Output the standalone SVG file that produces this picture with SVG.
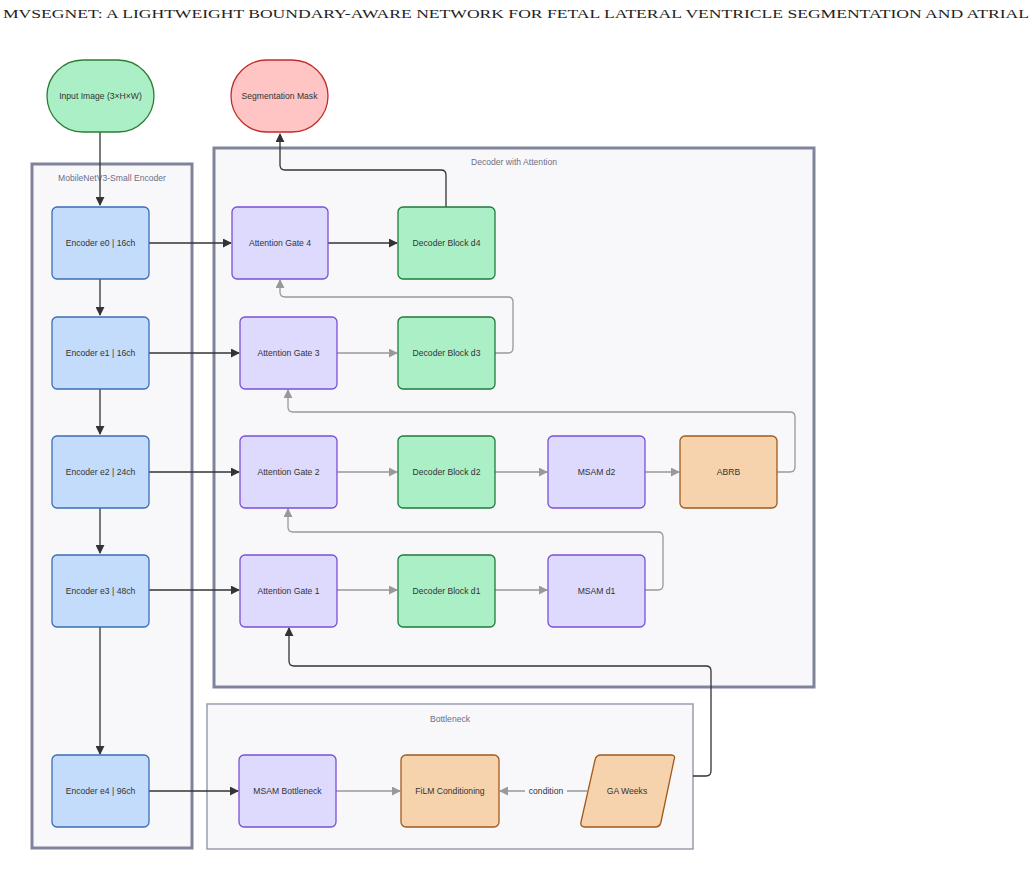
<svg xmlns="http://www.w3.org/2000/svg" width="1035" height="887" viewBox="0 0 1035 887">
<defs>
<style>
.t{font-family:"Liberation Sans",Arial,sans-serif;font-size:8.6px;fill:#333;text-anchor:middle;dominant-baseline:central}
.cl{font-family:"Liberation Sans",Arial,sans-serif;font-size:8.6px;fill:#6b6f85;text-anchor:middle;dominant-baseline:central}
.clu{fill:#f8f8fb;stroke:#80849a;stroke-width:3}
.clb{fill:#f8f8fb;stroke:#9a9db0;stroke-width:1.5}
.enc{fill:#c4dcfb;stroke:#3a6db5;stroke-width:1.3}
.att{fill:#dedafd;stroke:#7a4fd8;stroke-width:1.3}
.dec{fill:#abefc6;stroke:#1f7a3c;stroke-width:1.3}
.org{fill:#f6d3ad;stroke:#a05a1c;stroke-width:1.3}
.dk{fill:none;stroke:#333;stroke-width:1.3}
.gr{fill:none;stroke:#999;stroke-width:1.3}
</style>
<marker id="ad" viewBox="0 0 10 10" refX="9" refY="5" markerWidth="9" markerHeight="9" markerUnits="userSpaceOnUse" orient="auto"><path d="M0,0L10,5L0,10z" fill="#333"/></marker>
<marker id="ag" viewBox="0 0 10 10" refX="9" refY="5" markerWidth="9" markerHeight="9" markerUnits="userSpaceOnUse" orient="auto"><path d="M0,0L10,5L0,10z" fill="#999"/></marker>
</defs>
<rect width="1035" height="887" fill="#fff"/>
<text x="3" y="18" font-family="Liberation Serif,serif" font-size="13" fill="#222" textLength="1026" lengthAdjust="spacingAndGlyphs">MVSEGNET: A LIGHTWEIGHT BOUNDARY-AWARE NETWORK FOR FETAL LATERAL VENTRICLE SEGMENTATION AND ATRIAL</text>

<g id="cluster-encoder"><rect class="clu" x="32" y="164" width="160" height="684"/><text class="cl" x="112" y="178">MobileNetV3-Small Encoder</text></g>
<g id="cluster-decoder"><rect class="clu" x="214" y="148" width="600" height="539"/><text class="cl" x="514" y="162">Decoder with Attention</text></g>
<g id="cluster-bottleneck"><rect class="clb" x="207" y="704" width="486" height="145"/><text class="cl" x="450" y="719">Bottleneck</text></g>

<g id="connectors">
<path class="dk" d="M100,132V205" marker-end="url(#ad)"/>
<path class="dk" d="M100,279V315" marker-end="url(#ad)"/>
<path class="dk" d="M100,389V434" marker-end="url(#ad)"/>
<path class="dk" d="M100,508V553" marker-end="url(#ad)"/>
<path class="dk" d="M100,627V754" marker-end="url(#ad)"/>
<path class="dk" d="M149,243H231" marker-end="url(#ad)"/>
<path class="dk" d="M328,243H397" marker-end="url(#ad)"/>
<path class="dk" d="M446,207V175Q446,170 441,170H285Q280,170 280,165V134" marker-end="url(#ad)"/>
<path class="dk" d="M149,353H239" marker-end="url(#ad)"/>
<path class="gr" d="M337,353H397" marker-end="url(#ag)"/>
<path class="gr" d="M495,353H508Q513,353 513,348V302Q513,297 508,297H285Q280,297 280,292V280" marker-end="url(#ag)"/>
<path class="dk" d="M149,472H239" marker-end="url(#ad)"/>
<path class="gr" d="M337,472H397" marker-end="url(#ag)"/>
<path class="gr" d="M495,472H547" marker-end="url(#ag)"/>
<path class="gr" d="M645,472H679" marker-end="url(#ag)"/>
<path class="gr" d="M777,472H790Q795,472 795,467V417Q795,412 790,412H293Q288,412 288,407V390" marker-end="url(#ag)"/>
<path class="dk" d="M149,590H239" marker-end="url(#ad)"/>
<path class="gr" d="M337,590H397" marker-end="url(#ag)"/>
<path class="gr" d="M495,590H547" marker-end="url(#ag)"/>
<path class="gr" d="M645,590H658Q663,590 663,585V537Q663,532 658,532H293Q288,532 288,527V509" marker-end="url(#ag)"/>
<path class="dk" d="M693,776H706Q711,776 711,771V671Q711,666 706,666H294Q289,666 289,661V628" marker-end="url(#ad)"/>
<path class="dk" d="M149,791H238" marker-end="url(#ad)"/>
<path class="gr" d="M336,791H400" marker-end="url(#ag)"/>
<path class="gr" d="M587,791H500" marker-end="url(#ag)"/>
<rect x="525" y="784" width="42" height="14" fill="#f8f8fb"/>
<text class="t" x="546" y="791">condition</text>
</g>

<g id="input"><rect x="47" y="60" width="107" height="72" rx="36" fill="#abefc6" stroke="#2e7d32" stroke-width="1.3"/><text class="t" x="100.5" y="96">Input Image (3×H×W)</text></g>
<g id="segmask"><rect x="231" y="60" width="97" height="72" rx="36" fill="#ffc4c4" stroke="#c42b2b" stroke-width="1.3"/><text class="t" x="279.5" y="96">Segmentation Mask</text></g>

<g id="e0"><rect class="enc" x="52" y="207" width="97" height="72" rx="5"/><text class="t" x="100.5" y="243">Encoder e0 | 16ch</text></g>
<g id="e1"><rect class="enc" x="52" y="317" width="97" height="72" rx="5"/><text class="t" x="100.5" y="353">Encoder e1 | 16ch</text></g>
<g id="e2"><rect class="enc" x="52" y="436" width="97" height="72" rx="5"/><text class="t" x="100.5" y="472">Encoder e2 | 24ch</text></g>
<g id="e3"><rect class="enc" x="52" y="555" width="97" height="72" rx="5"/><text class="t" x="100.5" y="591">Encoder e3 | 48ch</text></g>
<g id="e4"><rect class="enc" x="52" y="755" width="97" height="72" rx="5"/><text class="t" x="100.5" y="791">Encoder e4 | 96ch</text></g>

<g id="ag4"><rect class="att" x="232" y="207" width="96" height="72" rx="5"/><text class="t" x="280" y="243">Attention Gate 4</text></g>
<g id="d4"><rect class="dec" x="398" y="207" width="97" height="72" rx="5"/><text class="t" x="446.5" y="243">Decoder Block d4</text></g>
<g id="ag3"><rect class="att" x="240" y="317" width="97" height="72" rx="5"/><text class="t" x="288.5" y="353">Attention Gate 3</text></g>
<g id="d3"><rect class="dec" x="398" y="317" width="97" height="72" rx="5"/><text class="t" x="446.5" y="353">Decoder Block d3</text></g>
<g id="ag2"><rect class="att" x="240" y="436" width="97" height="72" rx="5"/><text class="t" x="288.5" y="472">Attention Gate 2</text></g>
<g id="d2"><rect class="dec" x="398" y="436" width="97" height="72" rx="5"/><text class="t" x="446.5" y="472">Decoder Block d2</text></g>
<g id="msamd2"><rect class="att" x="548" y="436" width="97" height="72" rx="5"/><text class="t" x="596.5" y="472">MSAM d2</text></g>
<g id="abrb"><rect class="org" x="680" y="436" width="97" height="72" rx="5"/><text class="t" x="728.5" y="472">ABRB</text></g>
<g id="ag1"><rect class="att" x="240" y="555" width="97" height="72" rx="5"/><text class="t" x="288.5" y="591">Attention Gate 1</text></g>
<g id="d1"><rect class="dec" x="398" y="555" width="97" height="72" rx="5"/><text class="t" x="446.5" y="591">Decoder Block d1</text></g>
<g id="msamd1"><rect class="att" x="548" y="555" width="97" height="72" rx="5"/><text class="t" x="596.5" y="591">MSAM d1</text></g>

<g id="msamb"><rect class="att" x="239" y="755" width="97" height="72" rx="5"/><text class="t" x="287.5" y="791">MSAM Bottleneck</text></g>
<g id="film"><rect class="org" x="401" y="755" width="98" height="72" rx="5"/><text class="t" x="450" y="791">FiLM Conditioning</text></g>
<g id="ga"><path class="org" d="M601,755H671Q676,755 674,760L661,822Q660,827 655,827H585Q580,827 581,822L595,760Q596,755 601,755Z"/><text class="t" x="627" y="791">GA Weeks</text></g>
</svg>
